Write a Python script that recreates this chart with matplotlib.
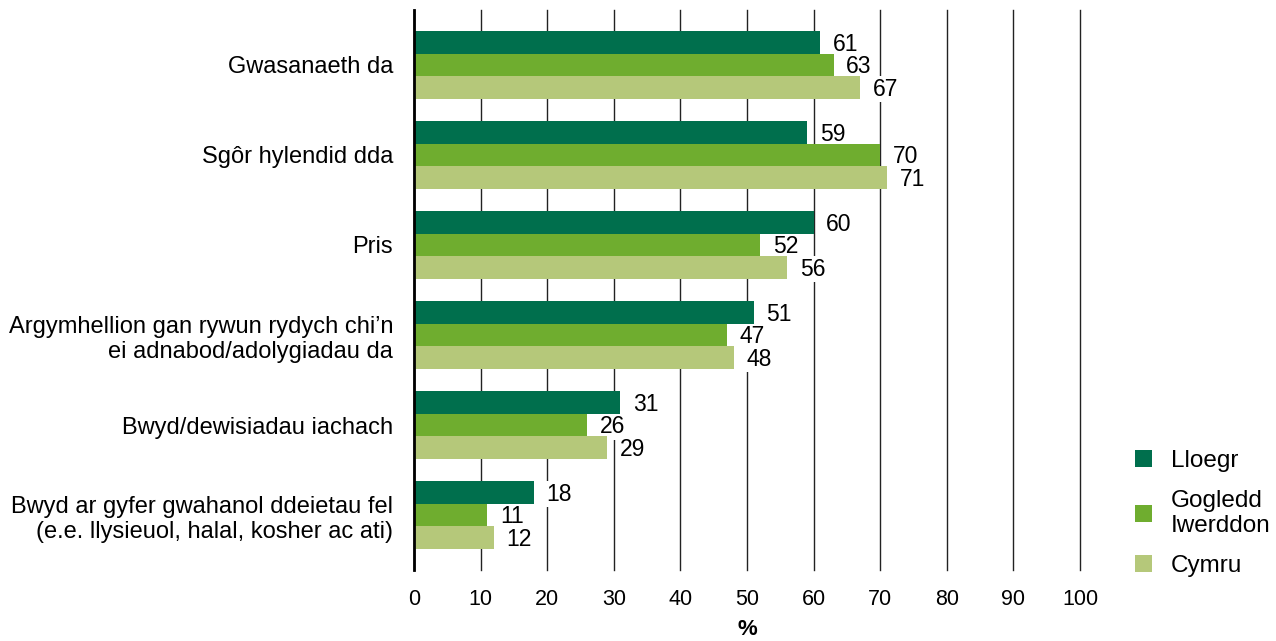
import numpy as np
import matplotlib.pyplot as plt

plt.rcParams['font.family'] = ['Liberation Sans', 'DejaVu Sans']

categories = [
    'Gwasanaeth da',
    'Sgôr hylendid dda',
    'Pris',
    'Argymhellion gan rywun rydych chi\u2019n\nei adnabod/adolygiadau da',
    'Bwyd/dewisiadau iachach',
    'Bwyd ar gyfer gwahanol ddeietau fel\n(e.e. llysieuol, halal, kosher ac ati)',
]
series_names = ['Lloegr', 'Gogledd\nIwerddon', 'Cymru']
lloegr = [61, 59, 60, 51, 31, 18]
gogledd_iwerddon = [63, 70, 52, 47, 26, 11]
cymru = [67, 71, 56, 48, 29, 12]
colors = ['#006F4D', '#6FAD2F', '#B5C87A']

fig = plt.figure(figsize=(12.76, 6.41), dpi=100)
ax = fig.add_axes([414 / 1276, 71 / 641, 666 / 1276, 560 / 641])

y = np.arange(len(categories))
h = 0.25
for k, (vals, name) in enumerate(zip([lloegr, gogledd_iwerddon, cymru], series_names)):
    pos = y + (k - 1) * h
    ax.barh(pos, vals, height=h, color=colors[k], label=name, zorder=4)
    for p, v in zip(pos, vals):
        # white box hides the gridline behind the number
        ax.text(v + 1.9, p + 0.02, str(v), va='center', ha='left', fontsize=16.5,
                zorder=3, bbox=dict(facecolor='white', edgecolor='none', pad=1))

ax.set_xlim(0, 100)
ax.set_ylim(len(categories) - 1 + 0.611, -0.611)
ax.set_xticks(range(0, 101, 10))
ax.tick_params(axis='x', length=0, labelsize=15.5, pad=14)
ax.set_yticks(y)
ax.set_yticklabels(categories, fontsize=17)
ax.tick_params(axis='y', length=0, pad=15)
ax.grid(axis='x', color='#222222', linewidth=1, zorder=0)
for line in ax.get_xgridlines():
    line.set_clip_on(False)
for s in ['top', 'right', 'bottom']:
    ax.spines[s].set_visible(False)
ax.spines['left'].set_linewidth(2)
ax.spines['left'].set_zorder(5)
ax.set_xlabel('%', fontsize=16, fontweight='bold', labelpad=6)

ax.legend(loc='upper left', bbox_to_anchor=(1.083, 0.214), frameon=False,
          fontsize=17.5, handlelength=0.7, handleheight=0.7, handletextpad=0.75,
          labelspacing=0.72, borderaxespad=0, borderpad=0)

fig.savefig('out.png', dpi=100)
